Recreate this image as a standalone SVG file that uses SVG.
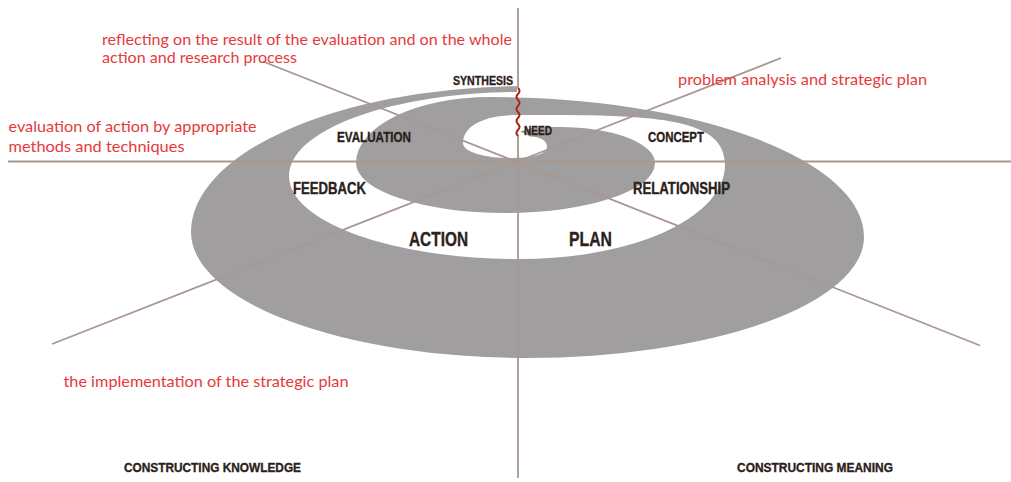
<svg xmlns="http://www.w3.org/2000/svg" width="1011" height="482" viewBox="0 0 1011 482">
<style>
.red{font-family:Lato,"Open Sans","Liberation Sans",sans-serif;font-size:15px;fill:#e53a3c}
.lab{font-family:"Liberation Sans",Arial,sans-serif;font-weight:bold;fill:#2b2119;stroke:#2b2119;stroke-width:0.35}
.ax{stroke:#a8988e;stroke-width:1.8;fill:none}
</style>
<rect width="1011" height="482" fill="#ffffff"/>
<g id="spiral">
<path fill="#a09e9f" d="M 520 131.5 L 532 128 C 545 127 552 127 560 127 A 95 36 0 0 1 655 163 A 150 50 0 0 1 505 213 A 149 50 0 0 1 356 163 A 134 66 0 0 1 490 97 A 374 140 0 0 1 864 237 A 337 121 0 0 1 527 358 A 336 126 0 0 1 191 232 A 336 146 0 0 1 517 86.2 L 517 92 A 231 84 0 0 0 289 176 A 229 83 0 0 0 518 259 C 640 259 725 215 725 165 C 725 118 660 114 518 115 C 480 115 463 128 463 143 C 463 152 485 158 510 158 C 530 158 547 155 547 147 C 547 140 540 137 530 136.5 Z"/>
</g>
<g id="connectors">
<line class="ax" x1="518" y1="8" x2="518" y2="88"/>
<line class="ax" x1="518" y1="135" x2="518" y2="478"/>
<line class="ax" x1="8" y1="161.5" x2="1011" y2="161.5"/>
<line class="ax" x1="263" y1="61.5" x2="980" y2="345.5"/>
<line class="ax" x1="52" y1="344" x2="781" y2="58"/>
<path d="M518 88 q3 3 0 6 q-3 3 0 6 q3 3 0 6 q-3 3 0 6 q3 3 0 6 q-3 3 0 6 q3 3 0 6 q-3 3 0 6" fill="none" stroke="#ad2519" stroke-width="2"/>
</g>
<g id="synthesis"><text class="lab" x="453" y="85" font-size="13" textLength="60" lengthAdjust="spacingAndGlyphs">SYNTHESIS</text></g>
<g id="need"><text class="lab" x="524" y="135" font-size="13" textLength="28" lengthAdjust="spacingAndGlyphs">NEED</text></g>
<g id="evaluation"><text class="lab" x="337" y="142" font-size="14.5" textLength="74" lengthAdjust="spacingAndGlyphs">EVALUATION</text></g>
<g id="concept"><text class="lab" x="648" y="142" font-size="14.5" textLength="56" lengthAdjust="spacingAndGlyphs">CONCEPT</text></g>
<g id="feedback"><text class="lab" x="293" y="194" font-size="16" textLength="73" lengthAdjust="spacingAndGlyphs">FEEDBACK</text></g>
<g id="relationship"><text class="lab" x="633" y="194" font-size="16" textLength="97" lengthAdjust="spacingAndGlyphs">RELATIONSHIP</text></g>
<g id="action"><text class="lab" x="409" y="246" font-size="21" textLength="59" lengthAdjust="spacingAndGlyphs">ACTION</text></g>
<g id="plan"><text class="lab" x="569" y="246" font-size="21" textLength="43" lengthAdjust="spacingAndGlyphs">PLAN</text></g>
<g id="knowledge"><text class="lab" x="124" y="472" font-size="13.5" textLength="177" lengthAdjust="spacingAndGlyphs">CONSTRUCTING KNOWLEDGE</text></g>
<g id="meaning"><text class="lab" x="737" y="472" font-size="13.5" textLength="156" lengthAdjust="spacingAndGlyphs">CONSTRUCTING MEANING</text></g>
<g id="note-reflect">
<text class="red" x="102" y="44.5" textLength="410" lengthAdjust="spacingAndGlyphs">reflecting on the result of the evaluation and on the whole</text>
<text class="red" x="102" y="63" textLength="195" lengthAdjust="spacingAndGlyphs">action and research process</text>
</g>
<g id="note-problem"><text class="red" x="678" y="85" textLength="249" lengthAdjust="spacingAndGlyphs">problem analysis and strategic plan</text></g>
<g id="note-evaluation">
<text class="red" x="8.5" y="132" textLength="248" lengthAdjust="spacingAndGlyphs">evaluation of action by appropriate</text>
<text class="red" x="8.5" y="151.5" textLength="176" lengthAdjust="spacingAndGlyphs">methods and techniques</text>
</g>
<g id="note-implementation"><text class="red" x="63.5" y="387" textLength="285" lengthAdjust="spacingAndGlyphs">the implementation of the strategic plan</text></g>
</svg>
